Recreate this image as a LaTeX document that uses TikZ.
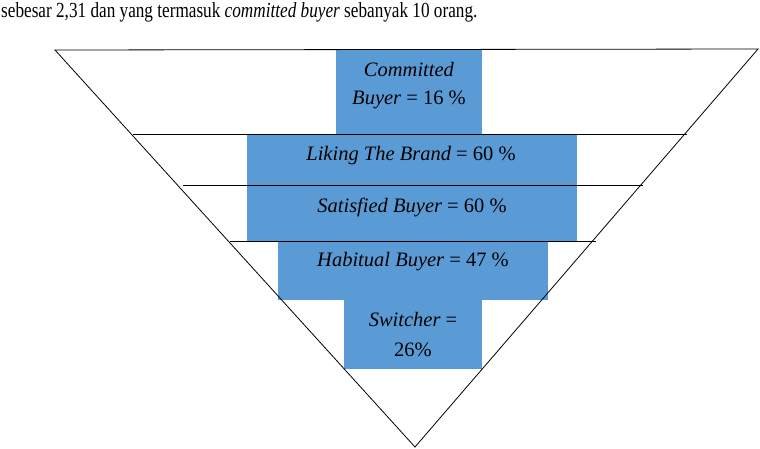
\documentclass[tikz,border=0pt]{standalone}
\usepackage{fontspec}
\setmainfont{Liberation Serif}
\definecolor{funnelblue}{HTML}{5B9BD5}

\begin{document}
\begin{tikzpicture}[x=1pt,y=-1pt,
  every node/.style={inner sep=0pt,font=\fontsize{20.5}{28}\selectfont},
  level/.style={align=center},
  edge/.style={line width=0.8pt}]
  \useasboundingbox (0,0) rectangle (760,448);
  % sentence above the funnel
  \node[anchor=base west,font=\fontsize{21.5}{24}\selectfont] (intro) at (1,17.5)
    {\scalebox{0.8}[1]{sebesar 2,31 dan yang termasuk \textit{committed buyer} sebanyak 10 orang.}};
  % blue bars
  \fill[funnelblue] (336,50) rectangle (482,134);
  \fill[funnelblue] (247,134) rectangle (577,241);
  \fill[funnelblue] (278,241) rectangle (548,300);
  \fill[funnelblue] (344,300) rectangle (482,369);
  % funnel outline
  \draw[edge] (55,50) -- (758,49) -- (415,447) -- cycle;
  \draw[edge] (133,134) -- (687,134);
  \draw[edge] (183,185) -- (643,185);
  \draw[edge] (230,241) -- (596,241);
  % labels
  \node[level] (committed) at (409,86) {\textit{Committed}\\\textit{Buyer} = 16 \%};
  \node[level] (liking) at (411,156) {\textit{Liking The Brand} = 60 \%};
  \node[level] (satisfied) at (412,207) {\textit{Satisfied Buyer} = 60 \%};
  \node[level] (habitual) at (413,262) {\textit{Habitual Buyer} = 47 \%};
  \node[level] (switcher) at (413,335) {\textit{Switcher} =\\[2pt]26\%};
\end{tikzpicture}
\end{document}
